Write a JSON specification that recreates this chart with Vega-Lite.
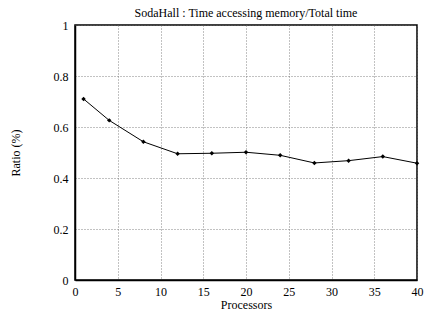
{
  "$schema": "https://vega.github.io/schema/vega-lite/v6.json",
  "width": 342,
  "height": 255,
  "autosize": "none",
  "padding": {"left": 75, "top": 25, "right": 8, "bottom": 34},
  "background": "white",
  "title": {
    "text": "SodaHall : Time accessing memory/Total time",
    "font": "Liberation Serif",
    "fontSize": 12,
    "fontWeight": "normal",
    "color": "black",
    "anchor": "middle",
    "offset": -1
  },
  "config": {
    "font": "Liberation Serif",
    "view": {"stroke": "black", "strokeWidth": 1.5},
    "axis": {
      "labelFont": "Liberation Serif",
      "labelFontSize": 12,
      "labelColor": "black",
      "titleFont": "Liberation Serif",
      "titleFontSize": 12,
      "titleFontWeight": "normal",
      "titleColor": "black",
      "domainColor": "black",
      "domainWidth": 1.5,
      "gridColor": "#666666",
      "gridDash": [1, 2],
      "gridWidth": 0.8,
      "gridOpacity": 1,
      "ticks": false
    }
  },
  "data": {
    "values": [
      {"processors": 1, "ratio": 0.710},
      {"processors": 4, "ratio": 0.626},
      {"processors": 8, "ratio": 0.542},
      {"processors": 12, "ratio": 0.495},
      {"processors": 16, "ratio": 0.497},
      {"processors": 20, "ratio": 0.501},
      {"processors": 24, "ratio": 0.489},
      {"processors": 28, "ratio": 0.459},
      {"processors": 32, "ratio": 0.468},
      {"processors": 36, "ratio": 0.484},
      {"processors": 40, "ratio": 0.458}
    ]
  },
  "encoding": {
    "x": {
      "field": "processors",
      "type": "quantitative",
      "scale": {"domain": [0, 40], "nice": false},
      "axis": {
        "title": "Processors",
        "values": [0, 5, 10, 15, 20, 25, 30, 35, 40],
        "labelPadding": 6,
        "labelFlush": false,
        "titleY": 24,
        "titleBaseline": "middle"
      }
    },
    "y": {
      "field": "ratio",
      "type": "quantitative",
      "scale": {"domain": [0, 1], "nice": false},
      "axis": {
        "title": "Ratio (%)",
        "values": [0, 0.2, 0.4, 0.6, 0.8, 1],
        "format": "~g",
        "labelPadding": 7,
        "labelFlush": false,
        "titleX": -60,
        "titleY": 127.5,
        "titleAngle": -90,
        "titleBaseline": "middle",
        "titleAlign": "center"
      }
    }
  },
  "layer": [
    {"mark": {"type": "line", "color": "black", "strokeWidth": 1}},
    {"mark": {"type": "point", "shape": "diamond", "filled": true, "color": "black", "size": 20, "opacity": 1}}
  ]
}
